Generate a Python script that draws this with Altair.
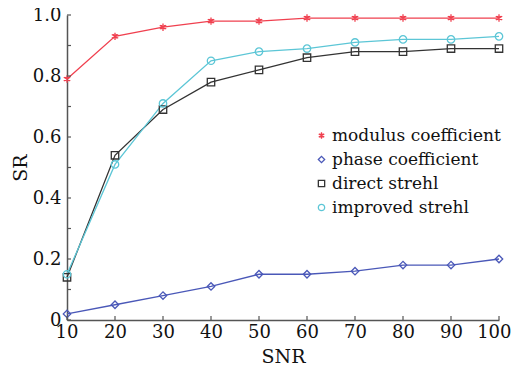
import altair as alt
import pandas as pd

snr = [10, 20, 30, 40, 50, 60, 70, 80, 90, 100]
modulus = [0.79, 0.93, 0.96, 0.98, 0.98, 0.99, 0.99, 0.99, 0.99, 0.99]
phase = [0.02, 0.05, 0.08, 0.11, 0.15, 0.15, 0.16, 0.18, 0.18, 0.20]
direct = [0.14, 0.54, 0.69, 0.78, 0.82, 0.86, 0.88, 0.88, 0.89, 0.89]
improved = [0.15, 0.51, 0.71, 0.85, 0.88, 0.89, 0.91, 0.92, 0.92, 0.93]

names = ["modulus coefficient", "phase coefficient", "direct strehl", "improved strehl"]
colors = ["#f0404f", "#4a58b8", "#333333", "#5cc6d6"]
star = "M0,-1L0,1M-0.87,-0.5L0.87,0.5M-0.87,0.5L0.87,-0.5M-0.5,-0.5L0.5,0.5M-0.5,0.5L0.5,-0.5"
shapes = [star, "diamond", "square", "circle"]

y_ticks = [i / 10 for i in range(11)]

rows = []
for name, vals in zip(names, [modulus, phase, direct, improved]):
    for s, v in zip(snr, vals):
        rows.append({"SNR": s, "SR": v, "series": name})
df = pd.DataFrame(rows)

W, H = 432, 305
FONT = "DejaVu Serif"

xs = alt.Scale(domain=[10, 100], nice=False)
ys = alt.Scale(domain=[0, 1], nice=False)

x = alt.X("SNR:Q", scale=xs, axis=alt.Axis(
    values=snr, title="SNR", tickSize=0, grid=False, labelPadding=3, titlePadding=6,
    labelFlush=True, labelFlushOffset=12))
y = alt.Y("SR:Q", scale=ys, axis=alt.Axis(
    values=y_ticks, title="SR", tickSize=0, grid=False, labelPadding=6, titlePadding=2,
    labelFlush=False,
    labelExpr="round(datum.value*10) % 2 == 0 ? (datum.value == 0 ? '0' : format(datum.value, '.1f')) : ''"))
leg = alt.Legend(title=None, orient="none", legendX=246, legendY=112,
                 labelFont=FONT, labelFontSize=17, symbolSize=40, labelLimit=400,
                 symbolStrokeWidth=1.3, rowPadding=6, labelOffset=2,
                 labelColor="#111111")
color = alt.Color("series:N", scale=alt.Scale(domain=names, range=colors), legend=leg)
shape = alt.Shape("series:N", scale=alt.Scale(domain=names, range=shapes), legend=leg)

base = alt.Chart(df)
lines = base.mark_line(strokeWidth=1.3).encode(x=x, y=y, color=color, detail="series:N")
points = base.mark_point(filled=False, size=55, strokeWidth=1.3, opacity=1).encode(x=x, y=y, color=color, shape=shape)

ytick_df = pd.DataFrame({"v": y_ticks})
xtick_df = pd.DataFrame({"s": snr})
yticks = alt.Chart(ytick_df).mark_rule(color="#555555", strokeWidth=1.2).encode(
    y=alt.Y("v:Q", scale=ys), x=alt.value(0), x2=alt.value(4))
xticks = alt.Chart(xtick_df).mark_rule(color="#555555", strokeWidth=1.2).encode(
    x=alt.X("s:Q", scale=xs), y=alt.value(H), y2=alt.value(H - 4))

chart = alt.layer(lines, points, yticks, xticks).properties(
    width=W, height=H,
    background="white",
    autosize=alt.AutoSizeParams(type="none"),
    padding={"left": 59, "top": 7, "right": 12, "bottom": 45},
).configure_view(stroke=None).configure_axis(
    domainColor="#555555", domainWidth=1.5, labelFont=FONT, labelFontSize=18,
    labelColor="#111111", titleFont=FONT, titleFontSize=19, titleFontWeight="normal",
    titleColor="#111111",
)

chart.save("out.html", embed_options={"renderer": "svg", "actions": False})
